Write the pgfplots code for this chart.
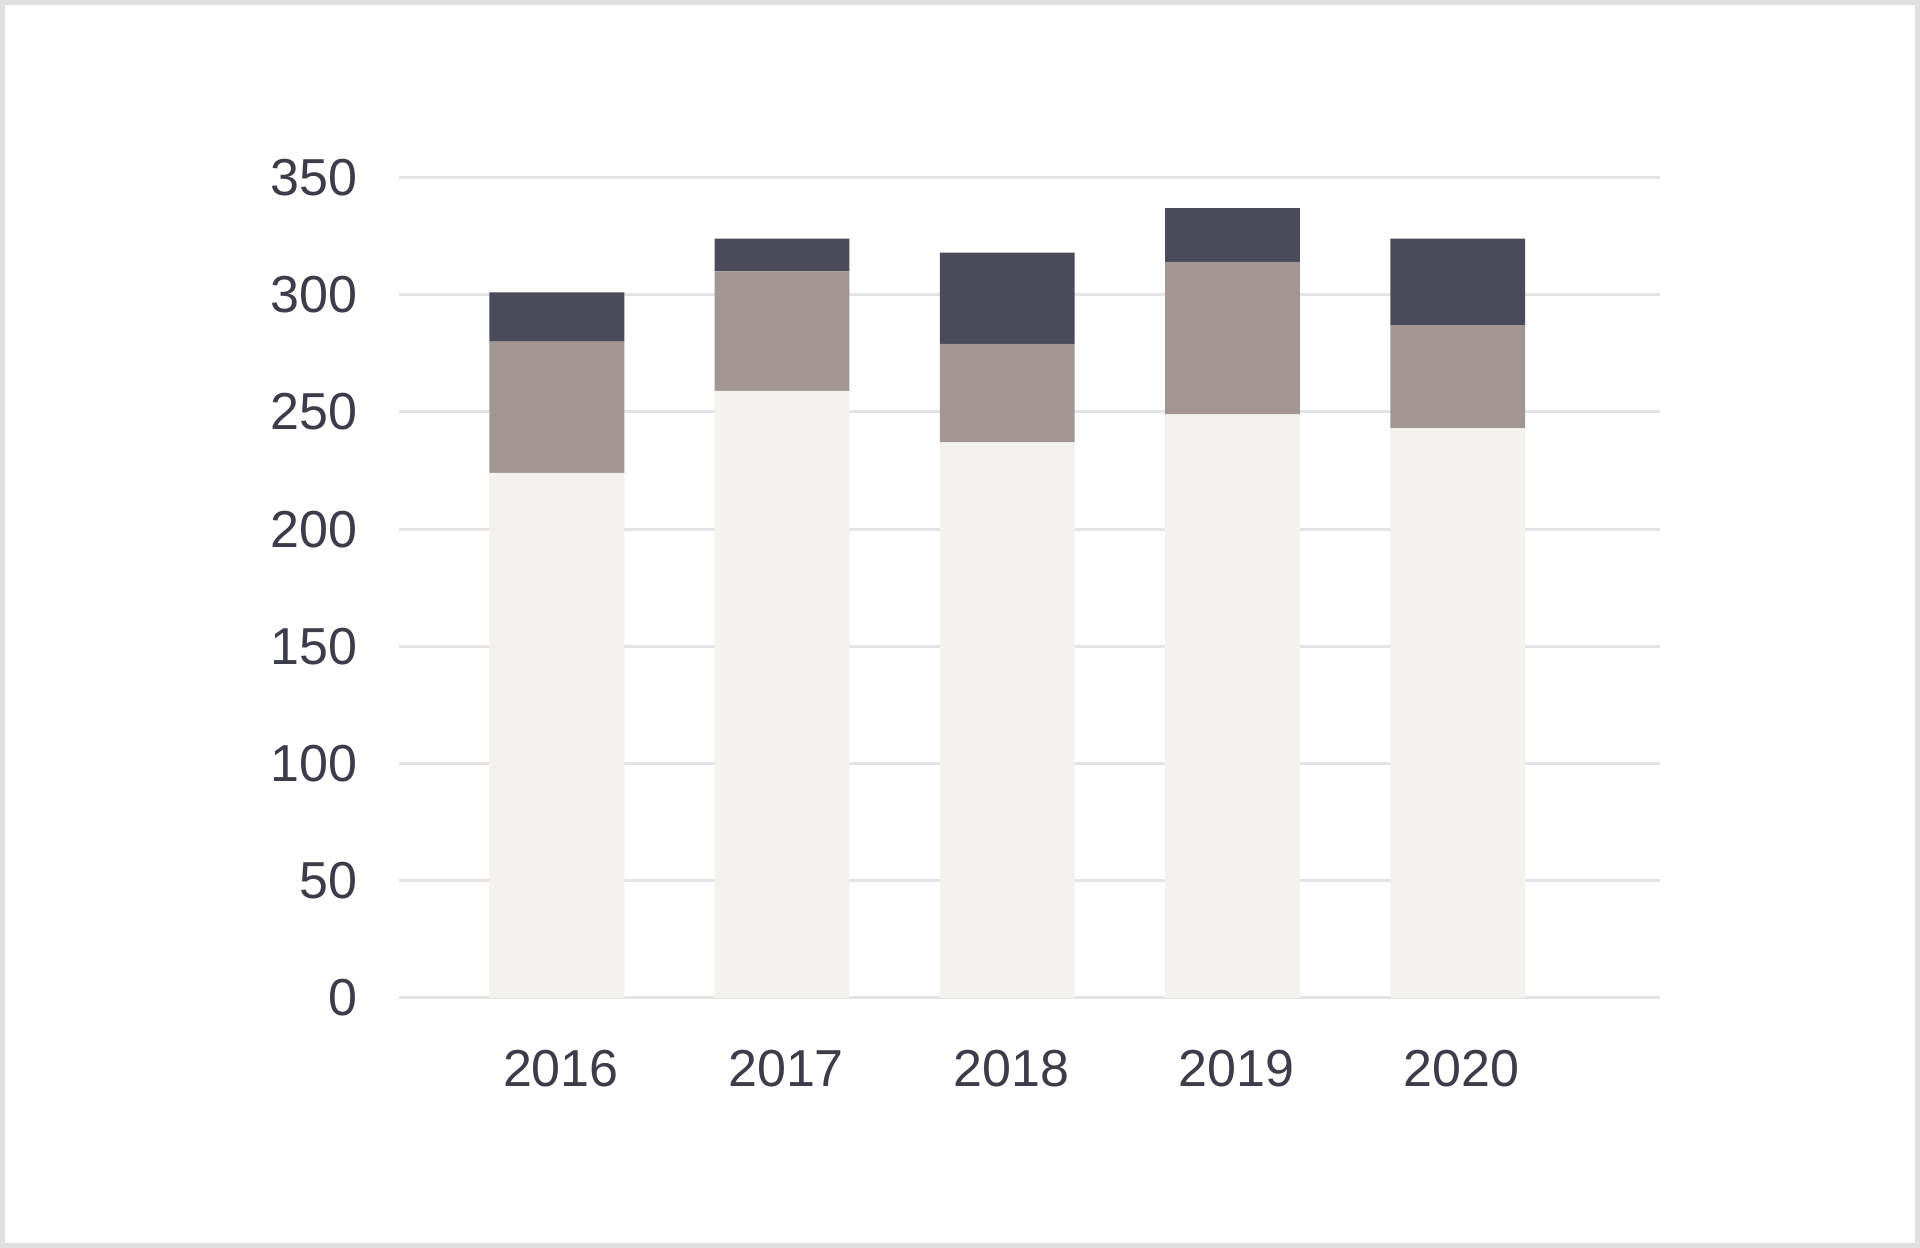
\documentclass[border=0pt]{standalone}
\usepackage{pgfplots}
\pgfplotsset{compat=1.18}
\usepackage{fontspec}
\setmainfont{Liberation Sans}
\definecolor{baseC}{HTML}{F3F2EE}
\definecolor{midC}{HTML}{A19694}
\definecolor{topC}{HTML}{4A4A5A}
\definecolor{gridC}{HTML}{E4E4E6}
\definecolor{txtC}{HTML}{3C3C4A}
\definecolor{frameC}{HTML}{E0E0E0}
\begin{document}
\begin{tikzpicture}
\fill[white] (0,0) rectangle (480pt,312pt);
\draw[frameC, line width=1.2pt] (0.6pt,0.6pt) rectangle (479.4pt,311.4pt);
\begin{axis}[
    at={(99.8pt,62.5pt)}, anchor=south west,
    scale only axis, width=315.3pt, height=205.1pt,
    ybar stacked, bar width=33.7pt,
    xmin=-0.70, xmax=4.9, ymin=0, ymax=350,
    xtick=data, xticklabels={2016,2017,2018,2019,2020},
    ytick={0,50,...,350},
    axis line style={draw=none}, tick style={draw=none},
    ymajorgrids, grid style={gridC, line width=0.75pt},
    ticklabel style={font=\fontsize{13}{15.5}\selectfont, text=txtC},
    xticklabel style={yshift=-9.5pt, xshift=1pt},
    yticklabel style={xshift=-7pt},
    /pgf/number format/assume math mode=true,
]
\addplot[fill=baseC, draw=none] coordinates {(0,224) (1,259) (2,237) (3,249) (4,243)};
\addplot[fill=midC, draw=none] coordinates {(0,56) (1,51) (2,42) (3,65) (4,44)};
\addplot[fill=topC, draw=none] coordinates {(0,21) (1,14) (2,39) (3,23) (4,37)};
\end{axis}
\end{tikzpicture}
\end{document}
